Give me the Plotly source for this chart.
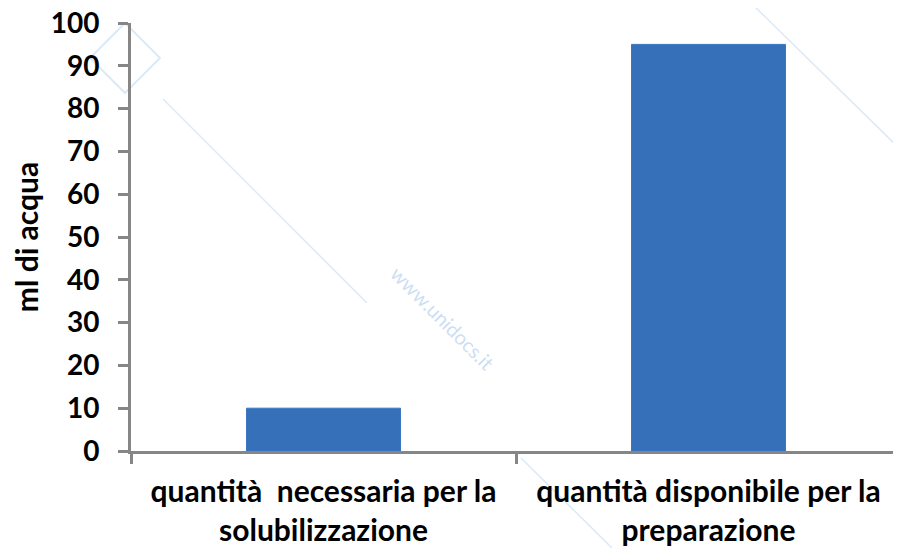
import plotly.graph_objects as go

categories = ["quantità \u00a0necessaria per la<br>solubilizzazione",
              "quantità disponibile per la<br>preparazione"]
values = [10, 95]
y_ticks = [0, 10, 20, 30, 40, 50, 60, 70, 80, 90, 100]
y_title = "ml di acqua"
watermark = "www.unidocs.it"

FONT = "Lato"
AXIS = "#868686"

fig = go.Figure()
fig.add_trace(go.Bar(
    x=categories, y=values,
    marker=dict(color="#3670B8", line=dict(color="#3a76c2", width=1)),
    width=0.4,
))

# faint watermark (page pixel coords -> paper coords; plot area x 131..901, y 23..451)
wm = "rgba(190,215,240,0.55)"
for x0, y0, x1, y1 in [(163, 99, 367, 303), (521, 458, 612, 548), (748, 0, 901, 150)]:
    fig.add_shape(type="line", xref="paper", yref="paper",
                  x0=(x0 - 131) / 770, x1=(x1 - 131) / 770,
                  y0=(451 - y0) / 428, y1=(451 - y1) / 428,
                  line=dict(color=wm, width=1.5), layer="below")
fig.add_annotation(text=watermark, xref="paper", yref="paper",
                   x=(443 - 131) / 770, y=(451 - 377) / 428,
                   showarrow=False, textangle=45,
                   font=dict(family=FONT, size=20, color="rgba(170,200,235,0.6)"))
# logo diamond
cx, cy, r = 125, 58, 35
pts = [(cx, cy - r), (cx + r, cy), (cx, cy + r), (cx - r, cy)]
path = "M " + " L ".join(f"{(px-131)/770:.4f},{(451-py)/428:.4f}" for px, py in pts) + " Z"
fig.add_shape(type="path", xref="paper", yref="paper", path=path,
              line=dict(color=wm, width=2), layer="below")

fig.update_layout(
    width=893, height=540,
    margin=dict(l=123, r=0, t=15, b=97, autoexpand=False),
    paper_bgcolor="white", plot_bgcolor="white",
    showlegend=False,
    font=dict(family=FONT, color="black"),
    xaxis=dict(
        type="category", automargin=False,
        showline=True, linecolor=AXIS, linewidth=3,
        ticks="outside", tickson="boundaries", ticklen=10, tickwidth=3, tickcolor=AXIS,
        ticklabelstandoff=12,
        tickfont=dict(family=FONT, size=30, color="black", weight="bold"),
        showgrid=False, zeroline=False,
    ),
    yaxis=dict(
        range=[0, 100], tickvals=y_ticks, automargin=False,
        showline=True, linecolor=AXIS, linewidth=3,
        ticks="outside", ticklen=10, tickwidth=3, tickcolor=AXIS,
        ticklabelstandoff=13, ticklabeloverflow="allow",
        tickfont=dict(family=FONT, size=28, color="black", weight="bold"),
        showgrid=False, zeroline=False,
        title=dict(text=y_title, standoff=15,
                   font=dict(family=FONT, size=30, color="black", weight="bold")),
    ),
)

fig.write_html("out.html")
